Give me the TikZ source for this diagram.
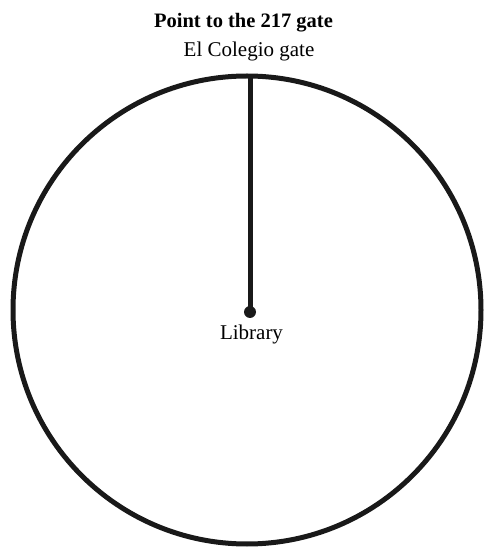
\documentclass[tikz,border=0pt]{standalone}
\usepackage{fontspec}
\setmainfont{Liberation Serif}
\usetikzlibrary{positioning}
\begin{document}
\begin{tikzpicture}[x=1pt,y=1pt]

    \tikzset{
      dial/.style={
        line width=5pt,
        draw={black!90},
      },
      pin/.style={
        circle,
        fill={black!90},
        inner sep=0pt,
        minimum size=12pt,
      },
      label/.style={
        anchor=base,
        inner sep=0pt,
        font=\fontsize{21}{25}\selectfont,
      },
    }

	\useasboundingbox (0,0) rectangle (486,547);
	\draw[dial] (247,237) circle (234);
	\node[pin] (library) at (250,235) {};
	\coordinate (gate) at (250,471);
	\draw[dial] (library.center)--(gate);
	\node[label] (librarytext) at (251.5,207) {Library};
	\node[label] (gatetext) at (249,490) {El Colegio gate};
	\node[label,font=\fontsize{20.5}{25}\selectfont\bfseries] (title) at (243.5,519) {Point to the 217 gate};

\end{tikzpicture}
\end{document}
